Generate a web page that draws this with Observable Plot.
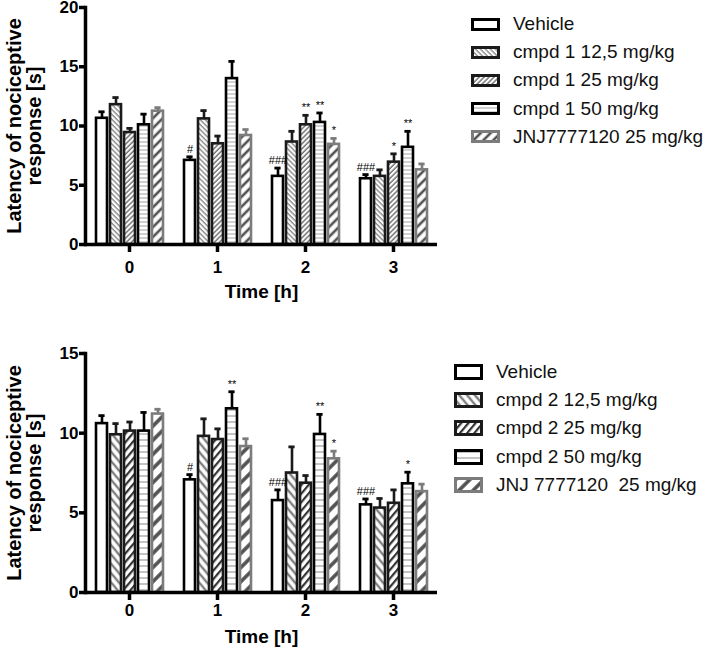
<!DOCTYPE html>
<html><head><meta charset="utf-8">
<script src="https://cdn.jsdelivr.net/npm/d3@7"></script>
<script src="https://cdn.jsdelivr.net/npm/@observablehq/plot@0.6"></script>
<style>
body{margin:0;background:#fff;font-family:"Liberation Sans",Arial,sans-serif;}
#wrap{position:relative;width:708px;height:649px;overflow:hidden;background:#fff;}
.chart{position:absolute;left:0;}
.legend{position:absolute;font-size:19px;color:#111;font-family:"Liberation Sans",Arial,sans-serif;}
.legend .row{display:flex;align-items:center;height:28.2px;white-space:pre;}
.legend svg{margin-right:13px;flex:none;}
svg [aria-label="y-axis label"]{font-size:20px;}
svg [aria-label="fx-axis label"]{font-size:19px;}
</style></head>
<body>
<svg width="0" height="0" style="position:absolute">
<defs>
<pattern id="tA" patternUnits="userSpaceOnUse" width="3.5" height="3.5" patternTransform="rotate(-45)"><rect width="3.5" height="3.5" fill="#fff"/><line x1="1" y1="0" x2="1" y2="3.5" stroke="#808080" stroke-width="1.3"/></pattern>
<pattern id="tB" patternUnits="userSpaceOnUse" width="3.5" height="3.5" patternTransform="rotate(45)"><rect width="3.5" height="3.5" fill="#fff"/><line x1="1" y1="0" x2="1" y2="3.5" stroke="#606060" stroke-width="1.3"/></pattern>
<pattern id="tC" patternUnits="userSpaceOnUse" width="4" height="4"><rect width="4" height="4" fill="#fff"/><line x1="0" y1="2" x2="4" y2="2" stroke="#c4c4c4" stroke-width="1.5"/></pattern>
<pattern id="tD" patternUnits="userSpaceOnUse" width="7" height="7" patternTransform="rotate(45)"><rect width="7" height="7" fill="#fff"/><line x1="2" y1="0" x2="2" y2="7" stroke="#505050" stroke-width="2.6"/></pattern>
<pattern id="bA" patternUnits="userSpaceOnUse" width="6" height="6" patternTransform="rotate(-40)"><rect width="6" height="6" fill="#fff"/><line x1="2" y1="0" x2="2" y2="6" stroke="#808080" stroke-width="2.4"/></pattern>
<pattern id="bB" patternUnits="userSpaceOnUse" width="5.5" height="5.5" patternTransform="rotate(40)"><rect width="5.5" height="5.5" fill="#fff"/><line x1="2" y1="0" x2="2" y2="5.5" stroke="#333" stroke-width="2.2"/></pattern>
<pattern id="bC" patternUnits="userSpaceOnUse" width="6" height="6"><rect width="6" height="6" fill="#fff"/><line x1="0" y1="3" x2="6" y2="3" stroke="#c4c4c4" stroke-width="2"/></pattern>
<pattern id="bD" patternUnits="userSpaceOnUse" width="10" height="10" patternTransform="rotate(45)"><rect width="10" height="10" fill="#fff"/><line x1="3" y1="0" x2="3" y2="10" stroke="#505050" stroke-width="3.6"/></pattern>
</defs>
</svg>
<div id="wrap"></div>
<script>
// ---------- data ----------
const times = [0, 1, 2, 3];

// Chart 1 (compound 1)
const series1 = ["Vehicle", "cmpd 1 12,5 mg/kg", "cmpd 1 25 mg/kg", "cmpd 1 50 mg/kg", "JNJ7777120 25 mg/kg"];
const c1Vehicle = [10.65, 7.1, 5.75, 5.55];
const c1Dose12 = [11.8, 10.6, 8.65, 5.75];
const c1Dose25 = [9.45, 8.5, 10.1, 6.95];
const c1Dose50 = [10.1, 14.0, 10.3, 8.2];
const c1Jnj = [11.25, 9.2, 8.45, 6.3];
const c1VehicleSem = [0.55, 0.3, 0.7, 0.35];
const c1Dose12Sem = [0.6, 0.7, 0.9, 0.55];
const c1Dose25Sem = [0.35, 0.65, 0.8, 0.7];
const c1Dose50Sem = [0.9, 1.45, 0.8, 1.35];
const c1JnjSem = [0.3, 0.5, 0.5, 0.5];
const c1VehicleSig = ["", "#", "###", "###"];
const c1Dose12Sig = ["", "", "", ""];
const c1Dose25Sig = ["", "", "**", "*"];
const c1Dose50Sig = ["", "", "**", "**"];
const c1JnjSig = ["", "", "*", ""];
const yTicks1 = [0, 5, 10, 15, 20];

// Chart 2 (compound 2)
const series2 = ["Vehicle", "cmpd 2 12,5 mg/kg", "cmpd 2 25 mg/kg", "cmpd 2 50 mg/kg", "JNJ 7777120  25 mg/kg"];
const c2Vehicle = [10.6, 7.07, 5.77, 5.5];
const c2Dose12 = [9.9, 9.8, 7.5, 5.3];
const c2Dose25 = [10.13, 9.6, 6.86, 5.6];
const c2Dose50 = [10.13, 11.53, 9.92, 6.82];
const c2Jnj = [11.2, 9.16, 8.39, 6.33];
const c2VehicleSem = [0.5, 0.33, 0.67, 0.37];
const c2Dose12Sem = [0.7, 1.1, 1.64, 0.6];
const c2Dose25Sem = [0.57, 0.67, 0.48, 0.84];
const c2Dose50Sem = [1.17, 1.07, 1.26, 0.73];
const c2JnjSem = [0.3, 0.49, 0.48, 0.47];
const c2VehicleSig = ["", "#", "###", "###"];
const c2Dose12Sig = ["", "", "", ""];
const c2Dose25Sig = ["", "", "", ""];
const c2Dose50Sig = ["", "**", "**", "*"];
const c2JnjSig = ["", "", "*", ""];
const yTicks2 = [0, 5, 10, 15];

// ---------- build tables ----------
function table(series, means, sems, sigs) {
  const rows = [];
  series.forEach((s, i) => times.forEach((t, j) => rows.push({
    time: t, series: s, mean: means[i][j], sem: sems[i][j], sig: sigs[i][j],
    upper: means[i][j] + sems[i][j]
  })));
  return rows;
}
const rows1 = table(series1,
  [c1Vehicle, c1Dose12, c1Dose25, c1Dose50, c1Jnj],
  [c1VehicleSem, c1Dose12Sem, c1Dose25Sem, c1Dose50Sem, c1JnjSem],
  [c1VehicleSig, c1Dose12Sig, c1Dose25Sig, c1Dose50Sig, c1JnjSig]);
const rows2 = table(series2,
  [c2Vehicle, c2Dose12, c2Dose25, c2Dose50, c2Jnj],
  [c2VehicleSem, c2Dose12Sem, c2Dose25Sem, c2Dose50Sem, c2JnjSem],
  [c2VehicleSig, c2Dose12Sig, c2Dose25Sig, c2Dose50Sig, c2JnjSig]);

const strokes = ["#000", "#1a1a1a", "#1a1a1a", "#000", "#7c7c7c"];
const fills1 = ["#fff", "url(#tA)", "url(#tB)", "url(#tC)", "url(#tD)"];
const fills2 = ["#fff", "url(#bA)", "url(#bB)", "url(#bC)", "url(#bD)"];

function chart({rows, series, fills, yTicks, height, marginTop, marginBottom, tickPadding, labelOffset}) {
  const marks = [];
  series.forEach((s, i) => {
    const data = rows.filter(d => d.series === s);
    marks.push(Plot.ruleX(data, {fx: "time", x: "series", y1: "mean", y2: "upper", stroke: strokes[i], strokeWidth: 2.6}));
    marks.push(Plot.tickY(data, {fx: "time", x: "series", y: "upper", stroke: strokes[i], strokeWidth: 2.8, insetLeft: 2.4, insetRight: 2.4}));
    marks.push(Plot.barY(data, {fx: "time", x: "series", y: "mean", fill: fills[i], stroke: strokes[i], strokeWidth: 2.6}));
  });
  marks.push(Plot.text(rows.filter(d => d.sig), {fx: "time", x: "series", y: "upper", text: "sig", dy: -4, lineAnchor: "bottom", fontSize: 11, fontWeight: "normal", fill: "#000"}));
  marks.push(Plot.ruleY([0], {strokeWidth: 3.5, stroke: "#000"}));
  marks.push(Plot.frame({anchor: "left", facetAnchor: "left", strokeWidth: 3.5, stroke: "#000"}));
  marks.push(Plot.axisY({ticks: yTicks, tickSize: 6, tickPadding: 1, strokeWidth: 3.5, tickFormat: d3.format("d"),
    label: "Latency of nociceptive\nresponse [s]", labelAnchor: "center", labelArrow: "none", labelOffset: 79}));
  marks.push(Plot.axisFx({anchor: "bottom", tickSize: 8, tickPadding, strokeWidth: 3.5,
    label: "Time [h]", labelAnchor: "center", labelArrow: "none", labelOffset}));
  return Plot.plot({
    width: 450, height, marginLeft: 84, marginRight: 12, marginTop, marginBottom,
    style: {fontFamily: "'Liberation Sans', Arial, sans-serif", fontWeight: "bold", fontSize: "17px", color: "#000", background: "transparent", overflow: "visible"},
    fx: {domain: times, padding: 0},
    x: {domain: series, paddingInner: 0.24, paddingOuter: 0.76, axis: null},
    y: {domain: [0, yTicks[yTicks.length - 1]], axis: null},
    marks
  });
}

function legend(series, fills, left, top, swH) {
  const div = document.createElement("div");
  div.className = "legend";
  div.style.left = left + "px";
  div.style.top = top + "px";
  series.forEach((s, i) => {
    const row = document.createElement("div");
    row.className = "row";
    const ns = "http://www.w3.org/2000/svg";
    const sv = document.createElementNS(ns, "svg");
    sv.setAttribute("width", 29); sv.setAttribute("height", swH + 3);
    const r = document.createElementNS(ns, "rect");
    r.setAttribute("x", 1.5); r.setAttribute("y", 1.5);
    r.setAttribute("width", 26); r.setAttribute("height", swH);
    r.setAttribute("fill", fills[i]); r.setAttribute("stroke", strokes[i]); r.setAttribute("stroke-width", 3);
    sv.appendChild(r);
    row.appendChild(sv);
    const tx = document.createElement("span");
    tx.textContent = s;
    row.appendChild(tx);
    div.appendChild(row);
  });
  return div;
}

const wrap = document.getElementById("wrap");
const p1 = chart({rows: rows1, series: series1, fills: fills1, yTicks: yTicks1, height: 305, marginTop: 7, marginBottom: 61, tickPadding: 8, labelOffset: 53});
const d1 = document.createElement("div"); d1.className = "chart"; d1.style.top = "0px"; d1.appendChild(p1); wrap.appendChild(d1);
const p2 = chart({rows: rows2, series: series2, fills: fills2, yTicks: yTicks2, height: 344, marginTop: 48, marginBottom: 57, tickPadding: 3, labelOffset: 50});
const d2 = document.createElement("div"); d2.className = "chart"; d2.style.top = "305px"; d2.appendChild(p2); wrap.appendChild(d2);
wrap.appendChild(legend(series1, fills1, 471, 10, 10));
wrap.appendChild(legend(series2, fills2, 454, 358, 13));
</script>
</body></html>
